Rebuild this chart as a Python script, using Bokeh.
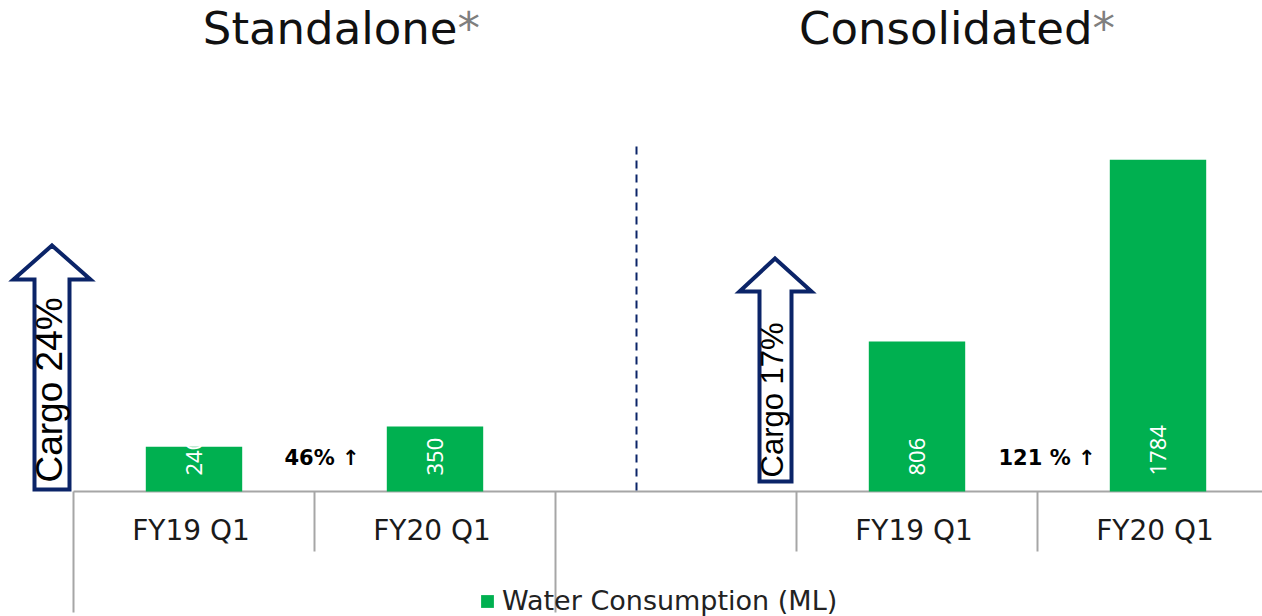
import math
from bokeh.plotting import figure
from bokeh.models import Range1d, ColumnDataSource, Legend, LegendItem
from bokeh.core.properties import value
from bokeh.embed import file_html
from bokeh.resources import INLINE

# ---------------- data ----------------
groups = ["Standalone", "Consolidated"]
categories = ["FY19 Q1", "FY20 Q1"]
standalone = [240, 350]
consolidated = [806, 1784]
cargo_growth = ["Cargo 24%", "Cargo 17%"]
yoy_change = ["46% ↑", "121 % ↑"]
series_name = "Water Consumption (ML)"

# slot layout of the category axis (Consolidated group has one blank slot first)
group_start = [0, 2]
group_first_cat = [0, 3]

# ---------------- geometry helpers (page pixel -> data) ----------------
PX_PER_SLOT = 241.0
UNITS_PER_PX = 5.376
X0_PX = 73.0
BASE_PX = 491.0
OX, OY = 0, 0
W, H = 1262, 616


def dx(px):
    return (px - X0_PX) / PX_PER_SLOT


def dy(py):
    return (BASE_PX - py) * UNITS_PER_PX


p = figure(width=W, height=H, output_backend="svg", toolbar_location=None,
           x_range=Range1d(dx(OX), dx(OX + W)), y_range=Range1d(dy(OY + H), dy(OY)),
           x_axis_type=None, y_axis_type=None, min_border=0)
p.outline_line_color = None
p.background_fill_color = "white"
p.border_fill_color = "white"

GREEN = "#00b050"
NAVY = "#0b2468"
GREY = "#a6a6a6"
FONT = "DejaVu Sans"

# ---------------- category axis ----------------
p.segment(x0=[0], y0=[0], x1=[5.2], y1=[0], line_color=GREY, line_width=2)
long_x = [float(g) for g in group_start]
short_x = []
for gi, first in enumerate(group_first_cat):
    for ci in range(len(categories)):
        s = first + ci
        if s not in group_start:
            short_x.append(float(s))
p.segment(x0=long_x, y0=[0] * len(long_x), x1=long_x, y1=[dy(612)] * len(long_x),
          line_color=GREY, line_width=2)
p.segment(x0=short_x, y0=[0] * len(short_x), x1=short_x, y1=[dy(551)] * len(short_x),
          line_color=GREY, line_width=2)

cat_x, cat_lab = [], []
for first in group_first_cat:
    for ci, c in enumerate(categories):
        cat_x.append(first + ci + 0.5)
        cat_lab.append(c)
p.text(x=cat_x, y=[dy(530)] * len(cat_x), text=cat_lab, text_font=value(FONT),
       text_font_size="28px", text_color="#1a1a1a", text_align="center",
       text_baseline="middle", x_offset=-3)

# ---------------- bars ----------------
bx, btop, blab = [], [], []
for first, vals in zip(group_first_cat, [standalone, consolidated]):
    for ci, v in enumerate(vals):
        bx.append(first + ci + 0.5)
        btop.append(v)
        blab.append(str(v))
src = ColumnDataSource(dict(x=bx, top=btop, lab=blab))
bars = p.vbar(x="x", top="top", bottom=0, width=0.40, source=src,
              fill_color=GREEN, line_color=None)
p.text(x="x", y=0, text="lab", source=src, angle=math.pi / 2, y_offset=-16,
       text_font=value("Noto Sans"), text_font_size="22px", text_color="white",
       text_align="left", text_baseline="middle")

# ---------------- separator between panels ----------------
p.segment(x0=[dx(636)], y0=[dy(146)], x1=[dx(636)], y1=[0], line_color=NAVY,
          line_width=2, line_dash="8 6")

# ---------------- titles ----------------
title_join = [457, 1092]
for g, jx in zip(groups, title_join):
    p.text(x=[dx(jx)], y=[dy(28)], text=[g], text_font=value(FONT),
           text_font_size="45px", text_color="#111111", text_align="right",
           text_baseline="middle")
    p.text(x=[dx(jx)], y=[dy(28)], text=["*"], text_font=value(FONT),
           text_font_size="45px", text_color="#7f7f7f", text_align="left",
           text_baseline="middle")

# ---------------- cargo arrows ----------------
arrows = [
    dict(tip=(51.5, 245), base=279, head=(13, 90), shaft=(34, 69), bottom=489,
         tx=48.5, ty=482, fs="37px"),
    dict(tip=(774.5, 258), base=291, head=(739, 811), shaft=(759, 791), bottom=481,
         tx=772, ty=477, fs="31px"),
]
for a, lab in zip(arrows, cargo_growth):
    tx_, ty_ = a["tip"]
    pxs = [tx_, a["head"][1], a["shaft"][1], a["shaft"][1], a["shaft"][0],
           a["shaft"][0], a["head"][0]]
    pys = [ty_, a["base"], a["base"], a["bottom"], a["bottom"], a["base"], a["base"]]
    p.patch(x=[dx(v) for v in pxs], y=[dy(v) for v in pys], fill_color="white",
            line_color=NAVY, line_width=4, line_join="miter")
    p.text(x=[dx(a["tx"])], y=[dy(a["ty"])], text=[lab], angle=math.pi / 2,
           text_font=value("Liberation Sans"), text_font_size=a["fs"],
           text_color="black", text_align="left", text_baseline="middle")

# ---------------- growth annotations ----------------
yoy_px = [284, 998]
p.text(x=[dx(v) for v in yoy_px], y=[dy(457)] * 2, text=yoy_change,
       text_font=value(FONT), text_font_style="bold", text_font_size="21px",
       text_color="black", text_align="left", text_baseline="middle")

# ---------------- legend ----------------
legend = Legend(items=[LegendItem(label=series_name, renderers=[bars])],
                location=(479 - OX, 0), orientation="horizontal",
                glyph_width=16, glyph_height=16, label_standoff=7,
                padding=0, margin=0, spacing=0,
                label_text_font=FONT, label_text_font_size="27px",
                label_text_color="#222222",
                border_line_alpha=0, background_fill_alpha=0)
p.add_layout(legend)

open("out.html", "w").write(file_html(p, INLINE))
